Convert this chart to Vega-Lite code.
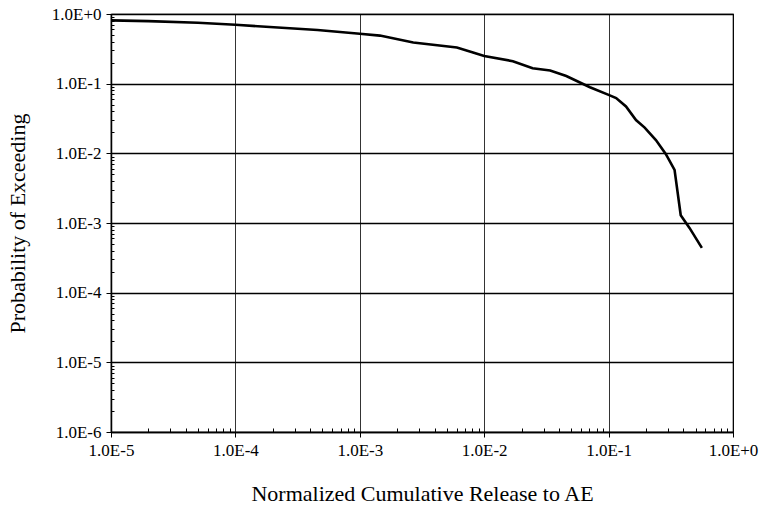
{
  "$schema": "https://vega.github.io/schema/vega-lite/v6.json",
  "width": 622,
  "height": 418,
  "autosize": "none",
  "padding": {"left": 111, "top": 14, "right": 28, "bottom": 81},
  "background": "white",
  "config": {
    "font": "Liberation Serif, Times New Roman, DejaVu Serif, serif",
    "view": {"stroke": "black", "strokeWidth": 1.2}
  },
  "data": {
    "values": [
      {"x": 1e-5, "p": 0.81},
      {"x": 2e-5, "p": 0.79},
      {"x": 5e-5, "p": 0.75},
      {"x": 1e-4, "p": 0.70},
      {"x": 0.000457, "p": 0.59},
      {"x": 0.001, "p": 0.52},
      {"x": 0.00145, "p": 0.49},
      {"x": 0.00269, "p": 0.39},
      {"x": 0.00603, "p": 0.33},
      {"x": 0.00813, "p": 0.28},
      {"x": 0.01, "p": 0.25},
      {"x": 0.017, "p": 0.21},
      {"x": 0.0245, "p": 0.166},
      {"x": 0.0339, "p": 0.155},
      {"x": 0.0457, "p": 0.129},
      {"x": 0.0708, "p": 0.089},
      {"x": 0.1, "p": 0.069},
      {"x": 0.115, "p": 0.062},
      {"x": 0.138, "p": 0.047},
      {"x": 0.166, "p": 0.030},
      {"x": 0.195, "p": 0.0234},
      {"x": 0.24, "p": 0.0155},
      {"x": 0.288, "p": 0.0098},
      {"x": 0.339, "p": 0.0058},
      {"x": 0.38, "p": 0.00129},
      {"x": 0.447, "p": 0.00085},
      {"x": 0.562, "p": 0.00044}
    ]
  },
  "mark": {"type": "line", "color": "black", "strokeWidth": 2.6, "interpolate": "linear"},
  "encoding": {
    "x": {
      "field": "x", "type": "quantitative",
      "scale": {"type": "log", "domain": [1e-5, 1], "nice": false},
      "axis": {
        "title": "Normalized Cumulative Release to AE",
        "titleFont": "Liberation Serif, Times New Roman, DejaVu Serif, serif", "titleFontSize": 22, "titleFontWeight": "normal", "titleColor": "black", "titlePadding": 25,
        "values": [1e-5,2e-5,3e-5,4e-5,5e-5,6e-5,7e-5,8e-5,9e-5,1e-4,2e-4,3e-4,4e-4,5e-4,6e-4,7e-4,8e-4,9e-4,1e-3,2e-3,3e-3,4e-3,5e-3,6e-3,7e-3,8e-3,9e-3,1e-2,2e-2,3e-2,4e-2,5e-2,6e-2,7e-2,8e-2,9e-2,1e-1,2e-1,3e-1,4e-1,5e-1,6e-1,7e-1,8e-1,9e-1,1],
        "labelExpr": "abs(log(datum.value)/LN10 - round(log(datum.value)/LN10)) < 0.001 ? '1.0E' + (round(log(datum.value)/LN10) >= 0 ? '+' : '') + round(log(datum.value)/LN10) : ''",
        "labelFont": "Liberation Serif, Times New Roman, DejaVu Serif, serif", "labelFontSize": 17, "labelColor": "black", "labelPadding": 5,
        "labelFlush": false, "labelOverlap": false,
        "domainColor": "black", "domainWidth": 1.5,
        "tickColor": "black",
        "tickSize": {"condition": {"test": "abs(log(datum.value)/LN10 - round(log(datum.value)/LN10)) < 0.001", "value": 5}, "value": -4},
        "grid": true,
        "gridColor": "black",
        "gridOpacity": {"condition": {"test": "abs(log(datum.value)/LN10 - round(log(datum.value)/LN10)) < 0.001", "value": 1}, "value": 0},
        "gridWidth": 0.8
      }
    },
    "y": {
      "field": "p", "type": "quantitative",
      "scale": {"type": "log", "domain": [1e-6, 1], "nice": false},
      "axis": {
        "title": "Probability of Exceeding",
        "titleFont": "Liberation Serif, Times New Roman, DejaVu Serif, serif", "titleFontSize": 22, "titleFontWeight": "normal", "titleColor": "black", "titlePadding": 22,
        "values": [1e-6,2e-6,3e-6,4e-6,5e-6,6e-6,7e-6,8e-6,9e-6,1e-5,2e-5,3e-5,4e-5,5e-5,6e-5,7e-5,8e-5,9e-5,1e-4,2e-4,3e-4,4e-4,5e-4,6e-4,7e-4,8e-4,9e-4,1e-3,2e-3,3e-3,4e-3,5e-3,6e-3,7e-3,8e-3,9e-3,1e-2,2e-2,3e-2,4e-2,5e-2,6e-2,7e-2,8e-2,9e-2,1e-1,2e-1,3e-1,4e-1,5e-1,6e-1,7e-1,8e-1,9e-1,1],
        "labelExpr": "abs(log(datum.value)/LN10 - round(log(datum.value)/LN10)) < 0.001 ? '1.0E' + (round(log(datum.value)/LN10) >= 0 ? '+' : '') + round(log(datum.value)/LN10) : ''",
        "labelFont": "Liberation Serif, Times New Roman, DejaVu Serif, serif", "labelFontSize": 17, "labelColor": "black", "labelPadding": 5,
        "labelFlush": false, "labelOverlap": false,
        "domainColor": "black", "domainWidth": 1.5,
        "tickColor": "black",
        "tickSize": {"condition": {"test": "abs(log(datum.value)/LN10 - round(log(datum.value)/LN10)) < 0.001", "value": 5}, "value": -3},
        "grid": true,
        "gridColor": "black",
        "gridOpacity": {"condition": {"test": "abs(log(datum.value)/LN10 - round(log(datum.value)/LN10)) < 0.001", "value": 1}, "value": 0},
        "gridWidth": 1.3
      }
    }
  }
}
